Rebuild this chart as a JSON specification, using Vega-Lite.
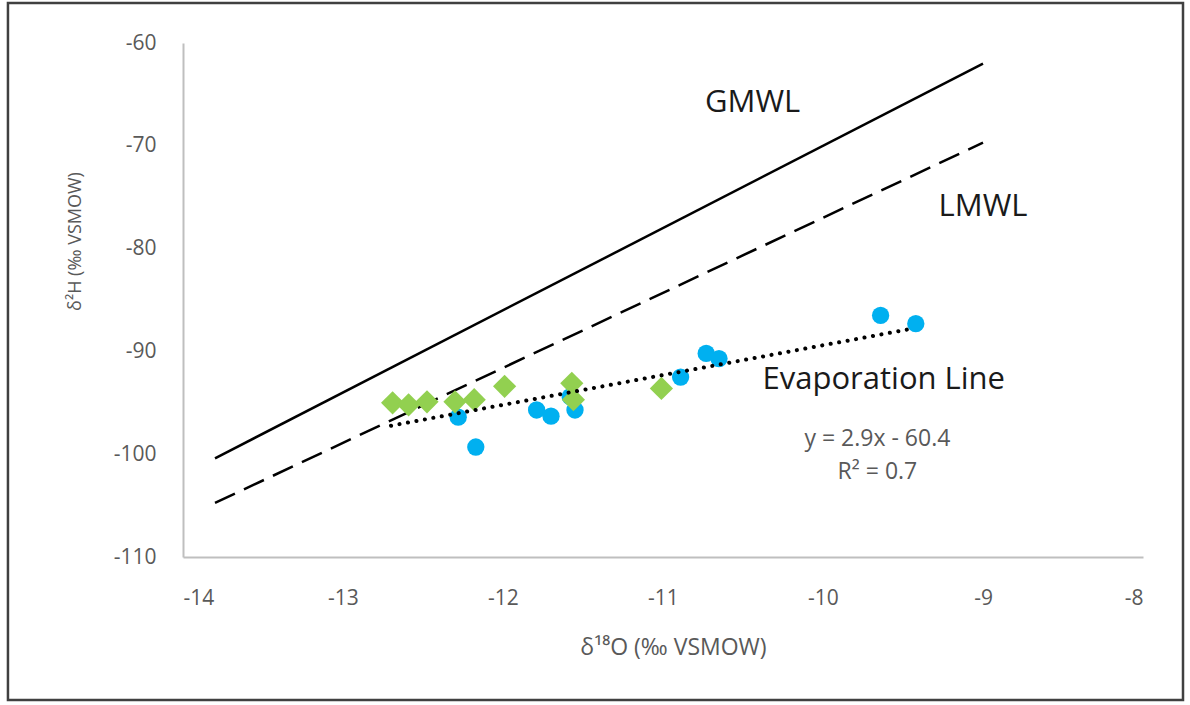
{
  "$schema": "https://vega.github.io/schema/vega-lite/v6.json",
  "width": 960,
  "height": 514,
  "autosize": "none",
  "padding": {"left": 183, "top": 43, "right": 47, "bottom": 148},
  "background": "white",
  "config": {"view": {"stroke": null}, "font": "Open Sans"},
  "datasets": {
    "lines": [
      {"line": "GMWL", "d18O": -13.8, "d2H": -100.4},
      {"line": "GMWL", "d18O": -9.0, "d2H": -62.0},
      {"line": "LMWL", "d18O": -13.8, "d2H": -104.74},
      {"line": "LMWL", "d18O": -9.0, "d2H": -69.7},
      {"line": "Evap", "d18O": -12.7, "d2H": -97.23},
      {"line": "Evap", "d18O": -9.43, "d2H": -87.75}
    ],
    "points": [
      {"group": "blue", "d18O": -12.28, "d2H": -96.4},
      {"group": "blue", "d18O": -12.17, "d2H": -99.3},
      {"group": "blue", "d18O": -11.79, "d2H": -95.7},
      {"group": "blue", "d18O": -11.70, "d2H": -96.3},
      {"group": "blue", "d18O": -11.58, "d2H": -94.4},
      {"group": "blue", "d18O": -11.55, "d2H": -95.7},
      {"group": "blue", "d18O": -10.89, "d2H": -92.5},
      {"group": "blue", "d18O": -10.73, "d2H": -90.2},
      {"group": "blue", "d18O": -10.65, "d2H": -90.7},
      {"group": "blue", "d18O": -9.64, "d2H": -86.5},
      {"group": "blue", "d18O": -9.42, "d2H": -87.3},
      {"group": "green", "d18O": -12.69, "d2H": -95.0},
      {"group": "green", "d18O": -12.59, "d2H": -95.2},
      {"group": "green", "d18O": -12.475, "d2H": -94.9},
      {"group": "green", "d18O": -12.30, "d2H": -94.9},
      {"group": "green", "d18O": -12.18, "d2H": -94.7},
      {"group": "green", "d18O": -11.99, "d2H": -93.4},
      {"group": "green", "d18O": -11.57, "d2H": -93.1},
      {"group": "green", "d18O": -11.56, "d2H": -94.7},
      {"group": "green", "d18O": -11.01, "d2H": -93.6}
    ],
    "labels": [
      {"kind": "main", "text": "GMWL", "d18O": -10.44, "d2H": -65.8},
      {"kind": "main", "text": "LMWL", "d18O": -9.0, "d2H": -76.0},
      {"kind": "main", "text": "Evaporation Line", "d18O": -9.62, "d2H": -92.8},
      {"kind": "eq", "text": "y = 2.9x - 60.4", "d18O": -9.66, "d2H": -98.5},
      {"kind": "eq", "text": "R² = 0.7", "d18O": -9.66, "d2H": -101.7}
    ],
    "frame": [
      {"x1": -15.094, "x2": -7.75, "y1": -56.11, "y2": -123.91}
    ]
  },
  "layer": [
    {
      "data": {"name": "frame"},
      "mark": {"type": "rect", "fill": null, "stroke": "#404040", "strokeWidth": 2.5, "clip": false},
      "encoding": {
        "x": {"field": "x1", "type": "quantitative", "scale": {"domain": [-14, -8], "nice": false, "zero": false}},
        "x2": {"field": "x2"},
        "y": {"field": "y1", "type": "quantitative", "scale": {"domain": [-110, -60], "nice": false, "zero": false}},
        "y2": {"field": "y2"}
      }
    },
    {
      "data": {"name": "lines"},
      "transform": [{"filter": "datum.line === 'GMWL'"}],
      "mark": {"type": "line", "color": "black", "strokeWidth": 2.5},
      "encoding": {
        "x": {"field": "d18O", "type": "quantitative", "scale": {"domain": [-14, -8], "nice": false, "zero": false},
          "axis": {"values": [-14, -13, -12, -11, -10, -9, -8], "labelExpr": "'' + datum.value", "title": "δ¹⁸O (‰ VSMOW)", "grid": false, "ticks": false,
            "domainColor": "#BFBFBF", "domainWidth": 2, "labelColor": "#595959", "labelFontSize": 21, "labelPadding": 30,
            "labelFont": "Open Sans", "titleFont": "Open Sans", "titleFontWeight": "normal", "titleFontSize": 23, "titleColor": "#595959",
            "titleX": 490, "titleY": 90, "titleBaseline": "middle", "titleAlign": "center"}},
        "y": {"field": "d2H", "type": "quantitative", "scale": {"domain": [-110, -60], "nice": false, "zero": false},
          "axis": {"values": [-110, -100, -90, -80, -70, -60], "labelExpr": "'' + datum.value", "title": "δ²H (‰ VSMOW)", "grid": false, "ticks": false,
            "domainColor": "#BFBFBF", "domainWidth": 2, "labelColor": "#595959", "labelFontSize": 21, "labelPadding": 27,
            "labelFont": "Open Sans", "titleFont": "Open Sans", "titleFontWeight": "normal", "titleFontSize": 18, "titleColor": "#595959",
            "titleX": -108, "titleY": 198, "titleAngle": -90, "titleBaseline": "middle", "titleAlign": "center"}}
      }
    },
    {
      "data": {"name": "lines"},
      "transform": [{"filter": "datum.line === 'LMWL'"}],
      "mark": {"type": "line", "color": "black", "strokeWidth": 2.5, "strokeDash": [22, 10]},
      "encoding": {
        "x": {"field": "d18O", "type": "quantitative"},
        "y": {"field": "d2H", "type": "quantitative"}
      }
    },
    {
      "data": {"name": "points"},
      "transform": [{"filter": "datum.group === 'blue'"}],
      "mark": {"type": "point", "shape": "circle", "filled": true, "color": "#00B0F0", "opacity": 1, "size": 300},
      "encoding": {
        "x": {"field": "d18O", "type": "quantitative"},
        "y": {"field": "d2H", "type": "quantitative"}
      }
    },
    {
      "data": {"name": "points"},
      "transform": [{"filter": "datum.group === 'green'"}],
      "mark": {"type": "point", "shape": "diamond", "filled": true, "color": "#92D050", "opacity": 1, "size": 540},
      "encoding": {
        "x": {"field": "d18O", "type": "quantitative"},
        "y": {"field": "d2H", "type": "quantitative"}
      }
    },
    {
      "data": {"name": "lines"},
      "transform": [{"filter": "datum.line === 'Evap'"}],
      "mark": {"type": "line", "color": "black", "strokeWidth": 4, "strokeDash": [0.1, 8.5], "strokeCap": "round"},
      "encoding": {
        "x": {"field": "d18O", "type": "quantitative"},
        "y": {"field": "d2H", "type": "quantitative"}
      }
    },
    {
      "data": {"name": "labels"},
      "transform": [{"filter": "datum.kind === 'main'"}],
      "mark": {"type": "text", "font": "Open Sans", "fontSize": 31, "color": "#1a1a1a", "align": "center", "baseline": "middle"},
      "encoding": {
        "x": {"field": "d18O", "type": "quantitative"},
        "y": {"field": "d2H", "type": "quantitative"},
        "text": {"field": "text"}
      }
    },
    {
      "data": {"name": "labels"},
      "transform": [{"filter": "datum.kind === 'eq'"}],
      "mark": {"type": "text", "font": "Open Sans", "fontSize": 23, "color": "#595959", "align": "center", "baseline": "middle"},
      "encoding": {
        "x": {"field": "d18O", "type": "quantitative"},
        "y": {"field": "d2H", "type": "quantitative"},
        "text": {"field": "text"}
      }
    }
  ]
}
